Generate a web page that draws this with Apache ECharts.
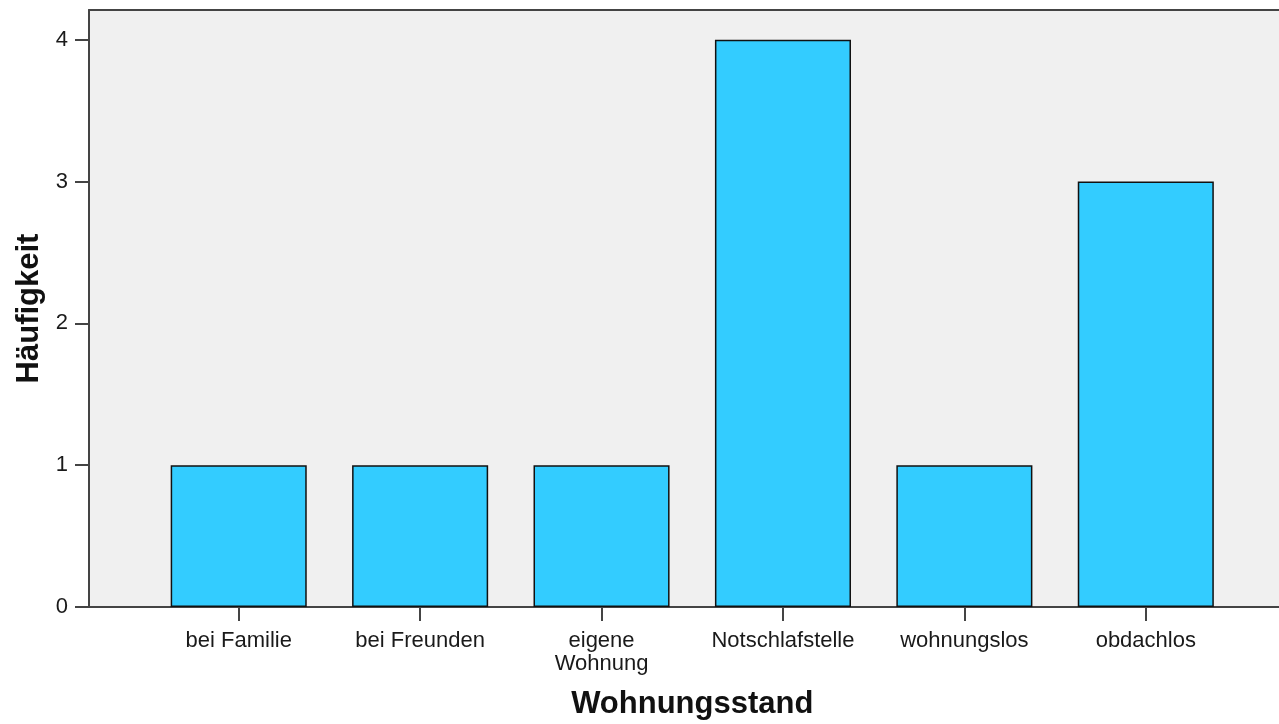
<!DOCTYPE html>
<html>
<head>
<meta charset="utf-8">
<script src="https://cdn.jsdelivr.net/npm/echarts@6/dist/echarts.min.js"></script>
<style>
  html, body { margin: 0; padding: 0; background: #fff; }
  #chart { width: 1279px; height: 724px; }
</style>
</head>
<body>
<div id="chart"></div>
<script>
// Daten
const kategorien = ['bei Familie', 'bei Freunden', 'eigene\nWohnung', 'Notschlafstelle', 'wohnungslos', 'obdachlos'];
const haeufigkeit = [1, 1, 1, 4, 1, 3];
const yTicks = [0, 1, 2, 3, 4];

const chart = echarts.init(document.getElementById('chart'));
const font = 'Liberation Sans, Arial, sans-serif';
const axisColor = '#444';
const lineStyle = { color: axisColor, width: 2 };

const option = {
  animation: false,
  grid: [
    // grauer Hintergrund (rechter Rand liegt außerhalb des Bildes)
    { left: 89, right: -16, top: 10, bottom: 117, show: true, outerBoundsMode: 'none',
      backgroundColor: '#f0f0f0', borderWidth: 0 },
    // Balken
    { left: 148, right: 42.5, top: 10, bottom: 117, outerBoundsMode: 'none' }
  ],
  xAxis: [
    // untere Achsenlinie
    { gridIndex: 0, type: 'value', min: 0, max: 1, position: 'bottom',
      axisLine: { show: true, lineStyle: lineStyle },
      axisTick: { show: false }, axisLabel: { show: false }, splitLine: { show: false } },
    {
      gridIndex: 1,
      type: 'category',
      data: kategorien,
      axisLine: { show: false },
      axisTick: { show: true, alignWithLabel: true, length: 14, lineStyle: lineStyle },
      axisLabel: { color: '#1a1a1a', fontFamily: font, fontSize: 22, margin: 22,
        lineHeight: 23, interval: 0 },
      name: 'Wohnungsstand',
      nameLocation: 'middle',
      nameGap: 82,
      nameTextStyle: { color: '#111', fontFamily: font, fontSize: 31, fontWeight: 'bold' }
    },
    // obere Rahmenlinie
    { gridIndex: 0, type: 'value', min: 0, max: 1, position: 'top',
      axisLine: { show: true, lineStyle: lineStyle },
      axisTick: { show: false }, axisLabel: { show: false }, splitLine: { show: false } }
  ],
  yAxis: [
    {
      gridIndex: 0,
      type: 'value',
      min: 0,
      max: 4.21,
      interval: 1,
      axisLine: { show: true, lineStyle: lineStyle },
      axisTick: { show: true, length: 14, lineStyle: lineStyle, customValues: yTicks },
      axisLabel: { color: '#1a1a1a', fontFamily: font, fontSize: 22, margin: 21,
        customValues: yTicks },
      splitLine: { show: false },
      name: 'Häufigkeit',
      nameLocation: 'middle',
      nameGap: 43,
      nameTextStyle: { color: '#111', fontFamily: font, fontSize: 31, fontWeight: 'bold' }
    },
    { gridIndex: 1, type: 'value', min: 0, max: 4.21, show: false }
  ],
  series: [
    {
      type: 'bar',
      xAxisIndex: 1,
      yAxisIndex: 1,
      data: haeufigkeit,
      barWidth: '75%',
      itemStyle: { color: '#33ccff', borderColor: '#111', borderWidth: 1.5 }
    }
  ]
};
chart.setOption(option);
</script>
</body>
</html>
